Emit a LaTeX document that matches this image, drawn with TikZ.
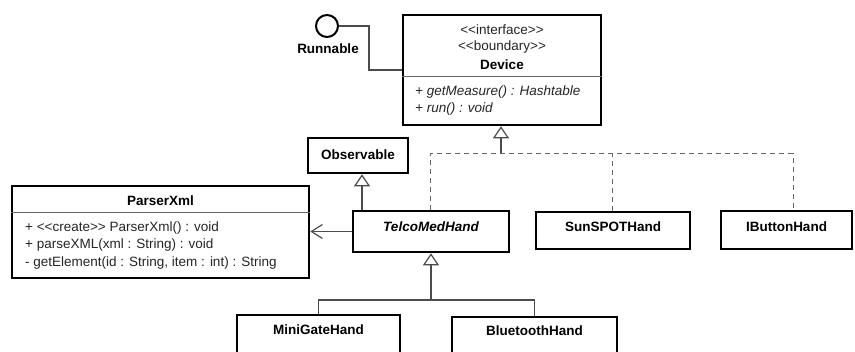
\documentclass[tikz,border=0pt]{standalone}
\usepackage{fontspec}
\newfontfamily\umlface{Liberation Sans}
\usetikzlibrary{arrows.meta}
\newcommand{\umlfont}{\umlface\fontsize{13.5}{17.5}\selectfont}

\begin{document}
\begin{tikzpicture}[x=1pt, y=-1pt,
		every node/.style={font=\umlfont, inner sep=0pt},
		classbox/.style={draw=black, line width=2.6pt, fill=white},
		title/.style={font=\umlfont\bfseries},
		member/.style={anchor=west, text=black!85},
		divider/.style={draw=black!60, line width=1pt},
		link/.style={draw=black!70, line width=1.2pt},
		realize/.style={draw=black!60, line width=1pt, dash pattern=on 5pt off 4pt},
		gen/.style={link, -{Triangle[length=12pt, width=16pt, fill=white]}},
		uses/.style={link, -{Straight Barb[length=11pt, width=14pt]}}]
			\useasboundingbox (0,0) rectangle (855,352);
			\clip (0,0) rectangle (855,352);
			\fill[white] (0,0) rectangle (855,352);

			% interface with its lollipop
			\node[classbox, minimum width=198pt, minimum height=110pt] (device) at (502,70) {};
			\draw[divider] (device.west |- 0,77) -- (device.east |- 0,77);
			\node[text=black!85] (devicestereoa) at (502,30) {<<interface>>};
			\node[text=black!85] (devicestereob) at (502,47) {<<boundary>>};
			\node[title] (devicename) at (502,65) {Device};
			\node[member, font=\umlfont\itshape] (getmeasure) at (415,92) {+ getMeasure() : Hashtable};
			\node[member, font=\umlfont\itshape] (run) at (415,109) {+ run() : void};

			\node[shape=circle, draw=black, line width=2pt, minimum size=22pt] (runnable) at (327,26) {};
			\node[title] (runnablename) at (328,49) {Runnable};
			\coordinate (runbend) at (369,70);
			\draw[link] (runnable.east) -| (runbend) -- (device.west |- runbend);

			% other classes
			\node[classbox, minimum width=100pt, minimum height=35pt] (observable) at (358,155.5) {};
			\node[title] (observablename) at (358,155) {Observable};

			\node[classbox, minimum width=297pt, minimum height=92pt] (parser) at (160.5,232) {};
			\draw[divider] (parser.west |- 0,213) -- (parser.east |- 0,213);
			\node[title] (parsername) at (160.5,201) {ParserXml};
			\node[member] (create) at (25,228) {+ <<create>> ParserXml() : void};
			\node[member] (parsexml) at (25,245) {+ parseXML(xml : String) : void};
			\node[member] (getelement) at (25,263) {- getElement(id : String, item : int) : String};

			\node[classbox, minimum width=156pt, minimum height=41pt] (telco) at (431,231.5) {};
			\node[font=\umlfont\bfseries\itshape] (telconame) at (431,227) {TelcoMedHand};

			\node[classbox, minimum width=154pt, minimum height=37pt] (sunspot) at (613,230.5) {};
			\node[title] (sunspotname) at (613,227) {SunSPOTHand};

			\node[classbox, minimum width=131pt, minimum height=38pt] (ibutton) at (786.5,230) {};
			\node[title] (ibuttonname) at (786.5,227) {IButtonHand};

			\node[classbox, minimum width=163pt, minimum height=60pt] (minigate) at (318.5,345) {};
			\node[title] (minigatename) at (318.5,330) {MiniGateHand};

			\node[classbox, minimum width=165pt, minimum height=60pt] (bluetooth) at (534.5,347) {};
			\node[title] (bluetoothname) at (534.5,331) {BluetoothHand};

			% realizations of Device
			\coordinate (hub) at (501,153.5);
			\draw[realize] ([xshift=-0.5pt]telco.north) |- (hub) -| ([xshift=6.5pt]ibutton.north);
			\draw[realize] ([xshift=-0.5pt]sunspot.north) -- ([xshift=-0.5pt]sunspot.north |- hub);
			\draw[gen] (hub) -- (device.south -| hub);

			% inheritance
			\coordinate (obsfoot) at ([xshift=-69pt]telco.north);
			\draw[gen] (obsfoot) -- (obsfoot |- observable.south);
			\draw[uses] (telco.west) -- (parser.east |- telco.west);

			\coordinate (fork) at (431,300);
			\draw[link] (minigate.north) |- (fork) -| (bluetooth.north);
			\draw[gen] (fork) -- (telco.south);
		\end{tikzpicture}
\end{document}
